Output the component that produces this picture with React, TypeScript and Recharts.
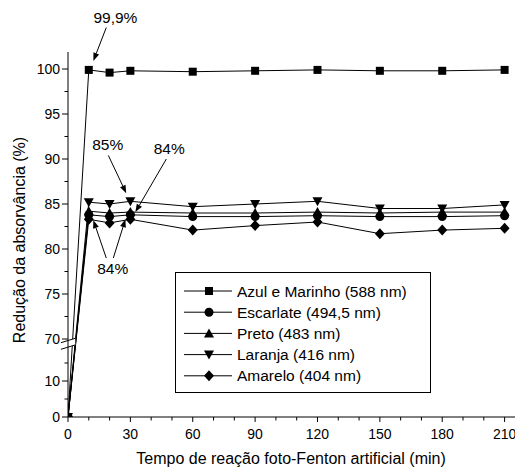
import React from "react";
import {
  LineChart,
  Line,
  XAxis,
  YAxis,
  Legend,
  ReferenceLine,
  ReferenceDot,
} from "recharts";

// tempo (min) e redução da absorvância (%) por corante
const tempo = [0, 10, 20, 30, 60, 90, 120, 150, 180, 210];
const azul = [0, 99.9, 99.6, 99.8, 99.7, 99.8, 99.9, 99.8, 99.8, 99.9];
const escarlate = [0, 83.8, 83.6, 83.8, 83.6, 83.6, 83.7, 83.6, 83.6, 83.7];
const preto = [0, 84.2, 84.0, 84.1, 84.0, 84.0, 84.1, 84.0, 84.1, 84.1];
const laranja = [0, 85.2, 85.0, 85.3, 84.7, 85.0, 85.3, 84.5, 84.5, 84.9];
const amarelo = [0, 83.3, 82.9, 83.3, 82.1, 82.6, 83.0, 81.7, 82.1, 82.3];

const xTicks = [0, 10, 20, 30, 40, 50, 60, 70, 80, 90, 100, 110, 120, 130, 140, 150, 160, 170, 180, 190, 200, 210];
const yTicksLow = [0, 5, 10, 15];
const yTicksHigh = [70, 72.5, 75, 77.5, 80, 82.5, 85, 87.5, 90, 92.5, 95, 97.5, 100];
const yLabels = [0, 10, 70, 75, 80, 85, 90, 95, 100];

// eixo y quebrado: 0–15 embaixo, 70–100 em cima
const toAxis = (v: number) => (v < 40 ? v * 3.6 : 78 + (v - 70) * 9);
const fromAxis = (t: number) =>
  Math.round((t < 70 ? t / 3.6 : 70 + (t - 78) / 9) * 10) / 10;

const series = [
  { key: "azul", name: "Azul e Marinho (588 nm)", values: azul, shape: "square" },
  { key: "escarlate", name: "Escarlate (494,5 nm)", values: escarlate, shape: "circle" },
  { key: "preto", name: "Preto (483 nm)", values: preto, shape: "up" },
  { key: "laranja", name: "Laranja (416 nm)", values: laranja, shape: "down" },
  { key: "amarelo", name: "Amarelo (404 nm)", values: amarelo, shape: "diamond" },
];

const data = tempo.map((t, i) => {
  const row: Record<string, number> = { t };
  series.forEach((s) => (row[s.key] = toAxis(s.values[i])));
  return row;
});

// anotações: [x (min), y (%)]
const notes = [
  { text: "99,9%", at: [22.8, 105.1] },
  { text: "85%", at: [19.1, 91.0] },
  { text: "84%", at: [48.7, 90.6] },
  { text: "84%", at: [21.5, 77.2] },
];
const arrows = [
  { from: [18.4, 104.6], to: [12.2, 100.9] },
  { from: [19.4, 90.4], to: [28.0, 86.2] },
  { from: [47.3, 90.0], to: [32.4, 84.1] },
  { from: [18.4, 79.0], to: [12.2, 83.2] },
  { from: [21.8, 79.0], to: [27.6, 83.3] },
];

const FONT = "'Liberation Sans', Arial, sans-serif";

function Marker({ cx, cy, shape }: any) {
  if (cx == null || cy == null) return null;
  switch (shape) {
    case "square":
      return <rect x={cx - 4} y={cy - 4} width={8} height={8} fill="#000" />;
    case "circle":
      return <circle cx={cx} cy={cy} r={4.5} fill="#000" />;
    case "up":
      return <polygon points={`${cx},${cy - 5} ${cx + 5},${cy + 4} ${cx - 5},${cy + 4}`} fill="#000" />;
    case "down":
      return <polygon points={`${cx},${cy + 5} ${cx + 5},${cy - 4} ${cx - 5},${cy - 4}`} fill="#000" />;
    default:
      return <polygon points={`${cx},${cy - 5.5} ${cx + 5},${cy} ${cx},${cy + 5.5} ${cx - 5},${cy}`} fill="#000" />;
  }
}

function YTick({ x, y, payload }: any) {
  const v = fromAxis(payload.value);
  const major = yLabels.includes(v);
  return (
    <g>
      <line x1={x - (major ? 6 : 3.5)} x2={x} y1={y} y2={y} stroke="#000" />
      {major && (
        <text x={x - 8} y={y} textAnchor="end" dominantBaseline="central" fontSize={14} fontFamily={FONT} fill="#000">
          {v}
        </text>
      )}
    </g>
  );
}

function XTick({ x, y, payload }: any) {
  const major = payload.value % 30 === 0;
  return (
    <g>
      <line x1={x} x2={x} y1={y} y2={y + (major ? 5 : 3.5)} stroke="#000" />
      {major && (
        <text x={x} y={y + 22} textAnchor="middle" fontSize={14} fontFamily={FONT} fill="#000">
          {payload.value}
        </text>
      )}
    </g>
  );
}

function Arrow({ x1, y1, x2, y2 }: any) {
  if (x1 == null) return null;
  const a = Math.atan2(y2 - y1, x2 - x1);
  const L = 8;
  const W = 3;
  const bx = x2 - L * Math.cos(a);
  const by = y2 - L * Math.sin(a);
  const px = -Math.sin(a) * W;
  const py = Math.cos(a) * W;
  return (
    <g>
      <line x1={x1} y1={y1} x2={bx} y2={by} stroke="#000" strokeWidth={1} />
      <polygon points={`${x2},${y2} ${bx + px},${by + py} ${bx - px},${by - py}`} fill="#000" />
    </g>
  );
}

function BreakMark({ x1, y1, x2, y2 }: any) {
  if (x1 == null) return null;
  const d = 3.3;
  return (
    <g>
      <polygon
        points={`${x1},${y1 - d} ${x2},${y2 - d} ${x2},${y2 + d} ${x1},${y1 + d}`}
        fill="#fff"
      />
      <line x1={x1} y1={y1 - d} x2={x2} y2={y2 - d} stroke="#000" />
      <line x1={x1} y1={y1 + d} x2={x2} y2={y2 + d} stroke="#000" />
    </g>
  );
}

function LegendBox() {
  return (
    <svg width={257} height={122} style={{ display: "block" }}>
      <rect x={0.5} y={0.5} width={255} height={120} fill="#fff" stroke="#000" />
      {series.map((s, i) => {
        const y = 19 + i * 21.2;
        return (
          <g key={s.key}>
            <line x1={9} x2={57} y1={y} y2={y} stroke="#000" />
            <Marker cx={34} cy={y} shape={s.shape} />
            <text x={62} y={y} dominantBaseline="central" fontSize={15.5} fontFamily={FONT} fill="#000">
              {s.name}
            </text>
          </g>
        );
      })}
    </svg>
  );
}

export default function App() {
  return (
    <div style={{ position: "absolute", left: 0, top: 0, background: "#fff" }}>
      <LineChart
        width={515}
        height={470}
        data={data}
        margin={{ top: 52, right: 0, bottom: 0, left: 0 }}
        style={{ fontFamily: FONT }}
      >
        <XAxis
          dataKey="t"
          type="number"
          domain={[0, 215]}
          ticks={xTicks}
          interval={0}
          height={53}
          tickSize={0}
          tickMargin={0}
          tickLine={false}
          tick={<XTick />}
          axisLine={{ stroke: "#000" }}
          allowDataOverflow
        />
        <YAxis
          type="number"
          domain={[0, 365]}
          ticks={[...yTicksLow, ...yTicksHigh].map(toAxis)}
          interval={0}
          width={68}
          tickSize={0}
          tickMargin={0}
          tickLine={false}
          tick={<YTick />}
          axisLine={{ stroke: "#000" }}
          allowDataOverflow
        />
        {series.map((s) => (
          <Line
            key={s.key}
            dataKey={s.key}
            name={s.name}
            stroke="#000"
            strokeWidth={1}
            isAnimationActive={false}
            dot={(p: any) => <Marker key={`${s.key}-${p.index}`} cx={p.cx} cy={p.cy} shape={s.shape} />}
            activeDot={false}
          />
        ))}
        <ReferenceLine
          segment={[{ x: -3.4, y: 71 }, { x: 3.5, y: 75.4 }]}
          ifOverflow="visible"
          shape={<BreakMark />}
        />
        {arrows.map((a, i) => (
          <ReferenceLine
            key={`arrow-${i}`}
            segment={[
              { x: a.from[0], y: toAxis(a.from[1]) },
              { x: a.to[0], y: toAxis(a.to[1]) },
            ]}
            ifOverflow="visible"
            shape={<Arrow />}
          />
        ))}
        {notes.map((n, i) => (
          <ReferenceDot
            key={`note-${i}`}
            x={n.at[0]}
            y={toAxis(n.at[1])}
            ifOverflow="visible"
            shape={(p: any) => (
              <text x={p.cx} y={p.cy} textAnchor="middle" fontSize={15.5} fontFamily={FONT} fill="#000">
                {n.text}
              </text>
            )}
          />
        ))}
        <Legend
          layout="horizontal"
          verticalAlign="middle"
          align="center"
          content={() => <LegendBox />}
          wrapperStyle={{ left: 175, top: 272, width: 257, height: 122 }}
        />
        <text
          transform="translate(24.5,240) rotate(-90)"
          textAnchor="middle"
          fontSize={16}
          fontFamily={FONT}
          fill="#000"
        >
          Redução da absorvância (%)
        </text>
        <text x={291} y={464} textAnchor="middle" fontSize={16} fontFamily={FONT} fill="#000">
          Tempo de reação foto-Fenton artificial (min)
        </text>
      </LineChart>
    </div>
  );
}
